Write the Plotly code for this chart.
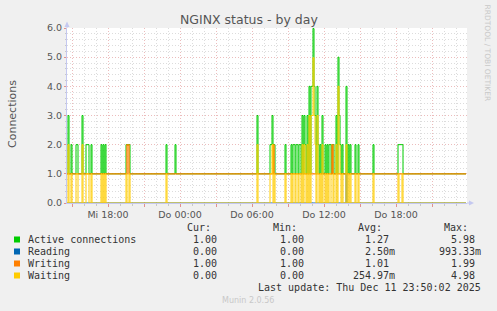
import plotly.graph_objects as go
import pandas as pd

# ---------------- data ----------------
start_time = "2025-12-10 14:35"
n_steps = 400  # 5-minute samples

active_base = 1.0
reading_base = 0.0
writing_base = 1.0
waiting_base = 0.0

active_spike_times = [
    "2025-12-10 14:40", "2025-12-10 14:55", "2025-12-10 15:20", "2025-12-10 15:25",
    "2025-12-10 15:50", "2025-12-10 16:10", "2025-12-10 16:15", "2025-12-10 16:20",
    "2025-12-10 16:35", "2025-12-10 17:25", "2025-12-10 17:35", "2025-12-10 17:45",
    "2025-12-10 19:30", "2025-12-10 19:35", "2025-12-10 19:40", "2025-12-10 19:45",
    "2025-12-10 22:50", "2025-12-10 23:35",
    "2025-12-11 06:25", "2025-12-11 07:30", "2025-12-11 07:35", "2025-12-11 07:40",
    "2025-12-11 07:45", "2025-12-11 07:50", "2025-12-11 08:45", "2025-12-11 09:15",
    "2025-12-11 09:25", "2025-12-11 09:30", "2025-12-11 09:40", "2025-12-11 09:45",
    "2025-12-11 09:55", "2025-12-11 10:00", "2025-12-11 10:10", "2025-12-11 10:20",
    "2025-12-11 10:25", "2025-12-11 10:35", "2025-12-11 10:45", "2025-12-11 10:55",
    "2025-12-11 11:00", "2025-12-11 11:05", "2025-12-11 11:10", "2025-12-11 11:15",
    "2025-12-11 11:25", "2025-12-11 11:30", "2025-12-11 11:40", "2025-12-11 11:50",
    "2025-12-11 12:05", "2025-12-11 12:15", "2025-12-11 12:25", "2025-12-11 12:30",
    "2025-12-11 12:40", "2025-12-11 12:45", "2025-12-11 13:00", "2025-12-11 13:10",
    "2025-12-11 13:15", "2025-12-11 13:20", "2025-12-11 13:30", "2025-12-11 13:50",
    "2025-12-11 14:00", "2025-12-11 14:10", "2025-12-11 14:35", "2025-12-11 14:50",
    "2025-12-11 16:05", "2025-12-11 18:10", "2025-12-11 18:15", "2025-12-11 18:20",
    "2025-12-11 18:25", "2025-12-11 18:30",
]
active_spike_vals = [
    3, 2, 2, 2,
    3, 2, 2, 2,
    2, 2, 2, 2,
    2, 2, 2, 2,
    2, 2,
    3, 2, 2, 3,
    2, 2, 2, 2,
    2, 2, 2, 2,
    2, 2, 3, 3,
    2, 3, 4, 4,
    4, 5.98, 4, 3,
    4, 2, 2, 3,
    2, 2, 2, 2,
    2, 2, 3, 5,
    3, 2, 2, 4,
    2, 2, 2, 2,
    2, 2, 2, 2,
    2, 2,
]

waiting_spike_times = [
    "2025-12-10 14:40", "2025-12-10 14:55", "2025-12-10 15:20", "2025-12-10 15:25",
    "2025-12-10 15:50", "2025-12-10 16:10", "2025-12-10 16:15", "2025-12-10 16:20",
    "2025-12-10 16:35", "2025-12-10 17:25", "2025-12-10 17:35", "2025-12-10 17:45",
    "2025-12-10 19:30", "2025-12-10 19:45", "2025-12-10 22:50",
    "2025-12-11 06:25", "2025-12-11 07:30", "2025-12-11 07:35", "2025-12-11 07:40",
    "2025-12-11 07:50", "2025-12-11 08:45", "2025-12-11 09:15",
    "2025-12-11 09:25", "2025-12-11 09:30", "2025-12-11 09:40", "2025-12-11 09:45",
    "2025-12-11 09:55", "2025-12-11 10:00", "2025-12-11 10:10", "2025-12-11 10:20",
    "2025-12-11 10:25", "2025-12-11 10:35", "2025-12-11 10:45", "2025-12-11 10:55",
    "2025-12-11 11:00", "2025-12-11 11:05", "2025-12-11 11:10", "2025-12-11 11:15",
    "2025-12-11 11:25", "2025-12-11 11:30", "2025-12-11 11:40", "2025-12-11 11:50",
    "2025-12-11 12:05", "2025-12-11 12:15", "2025-12-11 12:25", "2025-12-11 12:30",
    "2025-12-11 12:45", "2025-12-11 13:00", "2025-12-11 13:10",
    "2025-12-11 13:15", "2025-12-11 13:20", "2025-12-11 13:30", "2025-12-11 13:50",
    "2025-12-11 14:00", "2025-12-11 14:10", "2025-12-11 14:35", "2025-12-11 14:50",
    "2025-12-11 16:05", "2025-12-11 18:10", "2025-12-11 18:30",
]
waiting_spike_vals = [
    2, 1, 1, 1,
    2, 1, 1, 1,
    1, 1, 1, 1,
    1, 1, 1,
    2, 1, 1, 2,
    1, 1, 1,
    1, 1, 1, 1,
    1, 1, 2, 2,
    1, 2, 3, 3,
    3, 4.98, 3, 2,
    3, 1, 1, 2,
    1, 1, 1, 1,
    1, 2, 4,
    2, 1, 1, 2,
    1, 1, 1, 1,
    1, 1, 1,
]

writing_spike_times = ["2025-12-10 19:35", "2025-12-10 19:40", "2025-12-11 07:45", "2025-12-11 12:40"]
writing_spike_vals = [1.99, 1.99, 1.99, 1.99]

reading_spike_times = ["2025-12-11 13:50"]
reading_spike_vals = [0.99333]

x_tick_times = ["2025-12-10 15:00", "2025-12-10 18:00", "2025-12-10 21:00", "2025-12-11 00:00",
                "2025-12-11 03:00", "2025-12-11 06:00", "2025-12-11 09:00", "2025-12-11 12:00",
                "2025-12-11 15:00", "2025-12-11 18:00", "2025-12-11 21:00"]
x_tick_labels = ["", "Mi 18:00", "", "Do 00:00", "", "Do 06:00", "", "Do 12:00", "", "Do 18:00", ""]
y_tick_vals = [0, 1, 2, 3, 4, 5, 6]
y_tick_labels = ["0.0", "1.0", "2.0", "3.0", "4.0", "5.0", "6.0"]

series_names = ["Active connections", "Reading", "Writing", "Waiting"]
series_colors = ["#00CC00", "#0066B3", "#FF8000", "#FFCC00"]
col_cur = ["1.00", "0.00", "1.00", "0.00"]
col_min = ["1.00", "0.00", "1.00", "0.00"]
col_avg = ["1.27", "2.50m", "1.01", "254.97m"]
col_max = ["5.98", "993.33m", "1.99", "4.98"]
last_update = "Last update: Thu Dec 11 23:50:02 2025"

# ---------------- build series ----------------
times = pd.date_range(start_time, periods=n_steps, freq="5min")


def build(base, ts, vs):
    s = pd.Series(float(base), index=times)
    for t, v in zip(ts, vs):
        s[pd.Timestamp(t)] = v
    return s


active = build(active_base, active_spike_times, active_spike_vals)
reading = build(reading_base, reading_spike_times, reading_spike_vals)
writing = build(writing_base, writing_spike_times, writing_spike_vals)
waiting = build(waiting_base, waiting_spike_times, waiting_spike_vals)

# ---------------- figure ----------------
W, H = 497, 311
L, R, T, B = 67, 30, 28, 108
PW, PH = W - L - R, H - T - B


def px(xp):
    return (xp - L) / PW


def py(yp):
    return (H - B - yp) / PH


fig = go.Figure()
line_widths = [1, 1, 1.4, 1]
for s, c, lw in zip([active, reading, writing, waiting], series_colors, line_widths):
    fig.add_trace(go.Scatter(x=s.index, y=s.values, mode="lines",
                             line=dict(color=c, width=lw, shape="hv"),
                             showlegend=False, hoverinfo="skip"))

x_end = times[0] + pd.Timedelta(minutes=5 * n_steps)
axis_col = "#c4c8f0"
major_grid = "#ecbcbc"
minor_grid = "#dcdcdc"

fig.update_layout(
    width=W, height=H,
    margin=dict(l=L, r=R, t=T, b=B, pad=0),
    paper_bgcolor="#F0F0F0",
    plot_bgcolor="#FFFFFF",
    showlegend=False,
    xaxis=dict(
        type="date", range=[times[0], x_end],
        tickmode="array", tickvals=x_tick_times, ticktext=x_tick_labels,
        showgrid=True, gridcolor=major_grid, griddash="1px,2px", gridwidth=1,
        ticks="outside", ticklen=3, tickcolor="#e09090",
        tickfont=dict(family="DejaVu Sans", size=9.5, color="#555"),
        showline=True, linecolor=axis_col, linewidth=1, zeroline=False,
        minor=dict(dtick=3600000, tick0="2025-12-10 00:00", showgrid=True,
                   gridcolor=minor_grid, griddash="1px,2px",
                   ticks="outside", ticklen=2, tickcolor="#c8c8c8"),
        fixedrange=True,
    ),
    yaxis=dict(
        range=[0, 6], tickmode="array", tickvals=y_tick_vals, ticktext=y_tick_labels,
        showgrid=True, gridcolor=major_grid, griddash="1px,2px", gridwidth=1,
        ticks="outside", ticklen=2, tickcolor="#e09090",
        tickfont=dict(family="DejaVu Sans", size=9.5, color="#555"),
        showline=True, linecolor=axis_col, linewidth=1, zeroline=False,
        minor=dict(dtick=0.2, tick0=0, showgrid=True, gridcolor=minor_grid,
                   griddash="1px,2px", ticks="outside", ticklen=1, tickcolor="#c8c8c8"),
        fixedrange=True,
    ),
)

shapes = []
# axis arrows
shapes.append(dict(type="line", xref="paper", yref="paper", x0=px(67), x1=px(67), y0=py(28), y1=py(24),
                   line=dict(color=axis_col, width=1)))
shapes.append(dict(type="path", xref="paper", yref="paper",
                   path=f"M {px(64.5)},{py(27)} L {px(69.5)},{py(27)} L {px(67)},{py(21.5)} Z",
                   fillcolor=axis_col, line=dict(color=axis_col, width=0)))
shapes.append(dict(type="line", xref="paper", yref="paper", x0=px(467), x1=px(470), y0=py(203), y1=py(203),
                   line=dict(color=axis_col, width=1)))
shapes.append(dict(type="path", xref="paper", yref="paper",
                   path=f"M {px(469)},{py(200.5)} L {px(469)},{py(205.5)} L {px(474)},{py(203)} Z",
                   fillcolor=axis_col, line=dict(color=axis_col, width=0)))

row_y = [239.5, 251.5, 263.5, 275.5]
for yy, c in zip(row_y, series_colors):
    shapes.append(dict(type="rect", xref="paper", yref="paper",
                       x0=px(14), x1=px(20), y0=py(yy - 3), y1=py(yy + 3),
                       fillcolor=c, line=dict(width=0)))
fig.update_layout(shapes=shapes)

mono = dict(family="DejaVu Sans Mono", size=10, color="#333")
ann = []


def add_text(text, x, y, anchor, font, angle=0):
    ann.append(dict(text=text, x=px(x), y=py(y), xref="paper", yref="paper",
                    xanchor=anchor, yanchor="middle", showarrow=False, font=font,
                    textangle=angle))


add_text("NGINX status - by day", 248.5, 19, "center",
         dict(family="DejaVu Sans", size=12.5, color="#555"))
add_text("Connections", 12, 114, "center",
         dict(family="DejaVu Sans", size=11, color="#555"), angle=-90)
add_text("RRDTOOL / TOBI OETIKER", 487.5, 53, "center",
         dict(family="DejaVu Sans", size=7.5, color="#c8c8c8"), angle=90)

header_y = 227.5
add_text("Cur:", 212.7, header_y, "right", mono)
add_text("Min:", 299.3, header_y, "right", mono)
add_text("Avg:", 384.3, header_y, "right", mono)
add_text("Max:", 470.0, header_y, "right", mono)


def val(s):
    return s if s.endswith("m") else s + "\u00a0"


for i, yy in enumerate(row_y):
    add_text(series_names[i], 26, yy, "left", mono)
    add_text(val(col_cur[i]), 225.3, yy, "right", mono)
    add_text(val(col_min[i]), 311.7, yy, "right", mono)
    add_text(val(col_avg[i]), 396.7, yy, "right", mono)
    add_text(val(col_max[i]), 482.7, yy, "right", mono)

add_text(last_update, 482.7, 287.5, "right", mono)
add_text("Munin 2.0.56", 248, 300, "center",
         dict(family="DejaVu Sans", size=8, color="#c8c8c8"))

fig.update_layout(annotations=ann)
fig.write_html("out.html")
